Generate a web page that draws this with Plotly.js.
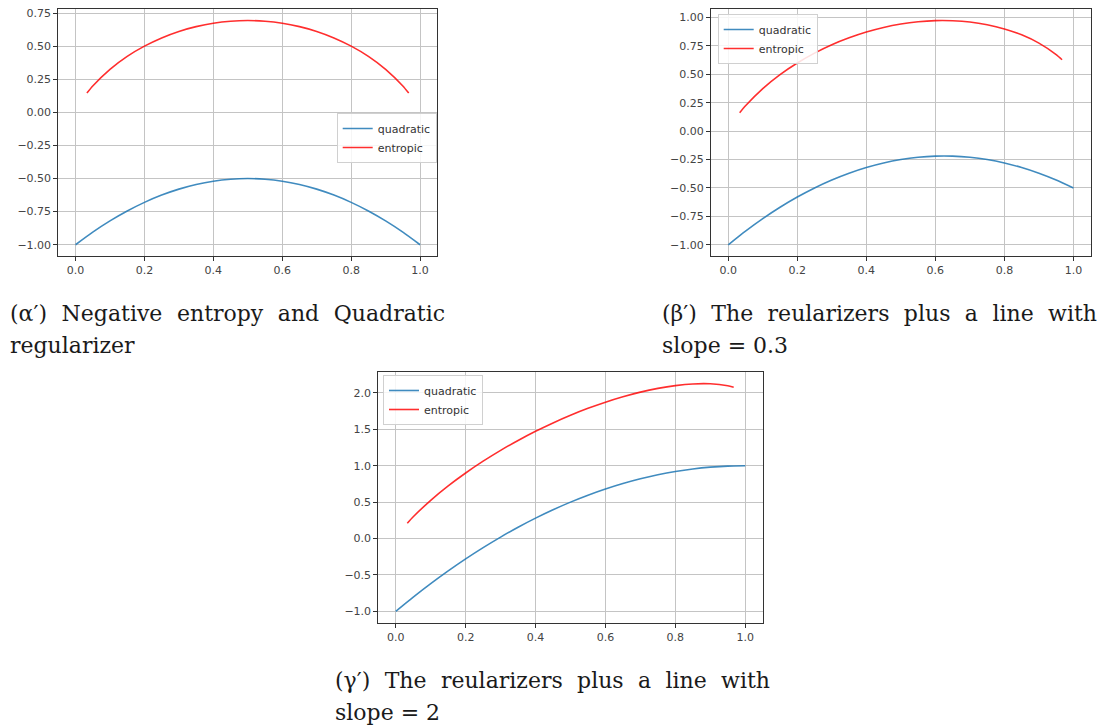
<!DOCTYPE html>
<html>
<head>
<meta charset="utf-8">
<script src="https://cdn.plot.ly/plotly-3.0.1.min.js"></script>
<style>html,body{margin:0;padding:0;background:#fff;}#chart{width:1103px;height:726px;}</style>
</head>
<body>
<div id="chart"></div>
<script>
// ---- data ----
const xQuad = [0,0.05,0.10,0.15,0.20,0.25,0.30,0.35,0.40,0.45,0.50,0.55,0.60,0.65,0.70,0.75,0.80,0.85,0.90,0.95,1.00];
const xEnt  = [0.033,0.05,0.10,0.15,0.20,0.25,0.30,0.35,0.40,0.45,0.50,0.55,0.60,0.65,0.70,0.75,0.80,0.85,0.90,0.95,0.967];

// panel (α′): negative entropy and quadratic regularizer
const quadA = [-1.000,-0.905,-0.820,-0.745,-0.680,-0.625,-0.580,-0.545,-0.520,-0.505,-0.500,-0.505,-0.520,-0.545,-0.580,-0.625,-0.680,-0.745,-0.820,-0.905,-1.000];
const entA  = [0.145,0.199,0.325,0.423,0.500,0.562,0.611,0.647,0.673,0.688,0.693,0.688,0.673,0.647,0.611,0.562,0.500,0.423,0.325,0.199,0.145];

// panel (β′)
const quadB = [-1.000,-0.880,-0.770,-0.670,-0.580,-0.500,-0.430,-0.370,-0.320,-0.280,-0.250,-0.230,-0.220,-0.220,-0.230,-0.250,-0.280,-0.320,-0.370,-0.430,-0.500];
const entB  = [0.162,0.224,0.375,0.498,0.600,0.687,0.761,0.822,0.873,0.913,0.943,0.963,0.973,0.972,0.961,0.937,0.900,0.848,0.775,0.674,0.629];

// panel (γ′)
const quadC = [-1.000,-0.805,-0.620,-0.445,-0.280,-0.125,0.020,0.155,0.280,0.395,0.500,0.595,0.680,0.755,0.820,0.875,0.920,0.955,0.980,0.995,1.000];
const entC  = [0.211,0.299,0.525,0.723,0.900,1.062,1.211,1.347,1.473,1.588,1.693,1.788,1.873,1.947,2.011,2.062,2.100,2.123,2.125,2.099,2.079];

const seriesNames = ['quadratic','entropic'];
const xTicks = [0,0.2,0.4,0.6,0.8,1.0];
const yTicksA = [-1.00,-0.75,-0.50,-0.25,0.00,0.25,0.50,0.75];
const yTicksB = [-1.00,-0.75,-0.50,-0.25,0.00,0.25,0.50,0.75,1.00];
const yTicksC = [-1.0,-0.5,0.0,0.5,1.0,1.5,2.0];

const captions = [
  ['(α′) Negative entropy and Quadratic', 'regularizer'],
  ['(β′) The reularizers plus a line with', 'slope = 0.3'],
  ['(γ′) The reularizers plus a line with', 'slope = 2']
];

// ---- styling ----
const BLUE = 'rgba(31,119,180,0.85)';
const RED = 'rgba(255,0,0,0.82)';

function mk(x, y, name, color, ax, leg) {
  return {x:x, y:y, name:name, type:'scatter', mode:'lines',
    line:{color:color, width:1.6, shape:'spline', smoothing:0.6},
    xaxis:'x'+ax, yaxis:'y'+ax, legend:leg, hoverinfo:'skip'};
}

const data = [
  mk(xQuad, quadA, seriesNames[0], BLUE, '', 'legend'),
  mk(xEnt,  entA,  seriesNames[1], RED,  '', 'legend'),
  mk(xQuad, quadB, seriesNames[0], BLUE, '2', 'legend2'),
  mk(xEnt,  entB,  seriesNames[1], RED,  '2', 'legend2'),
  mk(xQuad, quadC, seriesNames[0], BLUE, '3', 'legend3'),
  mk(xEnt,  entC,  seriesNames[1], RED,  '3', 'legend3'),
];

const tickFont = {family:'DejaVu Sans, sans-serif', size:11, color:'#444'};
function xax(domain, anchor) {
  return {domain:domain, anchor:anchor, range:[-0.05,1.05], tickvals:xTicks, tickformat:'.1f',
    showgrid:true, gridcolor:'#c4c4c4', gridwidth:1, zeroline:false,
    showline:true, linecolor:'#333', linewidth:1, mirror:true,
    ticks:'outside', ticklen:4, tickcolor:'#333', tickfont:tickFont, fixedrange:true};
}
function yax(domain, anchor, range, tv, fmt) {
  return {domain:domain, anchor:anchor, range:range, tickvals:tv, tickformat:fmt,
    showgrid:true, gridcolor:'#c4c4c4', gridwidth:1, zeroline:false,
    showline:true, linecolor:'#333', linewidth:1, mirror:true,
    ticks:'outside', ticklen:4, tickcolor:'#333', tickfont:tickFont, fixedrange:true};
}
function leg(x, y) {
  return {x:x, y:y, xanchor:'left', yanchor:'top', bgcolor:'rgba(255,255,255,0.85)',
    bordercolor:'#d0d0d0', borderwidth:1, font:{family:'DejaVu Sans, sans-serif', size:11, color:'#333'},
    itemwidth:30, tracegroupgap:0};
}

const capFont = {family:'DejaVu Serif, Liberation Serif, serif', size:22, color:'#1a1a1a'};
function cap(x, y, text) {
  return {xref:'paper', yref:'paper', x:x, y:y, xanchor:'left', yanchor:'middle',
    text:text, showarrow:false, font:capFont, align:'left'};
}
const W = 1103, H = 726;
const annotations = [
  cap(8/W, 1-313/H, captions[0][0]), cap(8/W, 1-345/H, captions[0][1]),
  cap(660/W, 1-313/H, captions[1][0]), cap(660/W, 1-345/H, captions[1][1]),
  cap(333/W, 1-680/H, captions[2][0]), cap(333/W, 1-712/H, captions[2][1]),
];
// justified first caption lines: target right edges (px)
const justifyRight = {0:443, 2:1095, 4:768};

const layout = {
  width:W, height:H, margin:{l:0,r:0,t:0,b:0},
  paper_bgcolor:'#fff', plot_bgcolor:'#fff', showlegend:true,
  xaxis:  xax([58.3/W, 437.3/W], 'y'),
  yaxis:  yax([1-256/H, 1-9.3/H], 'x', [-1.085, 0.778], yTicksA, '.2f'),
  xaxis2: xax([711/W, 1090.7/W], 'y2'),
  yaxis2: yax([1-256/H, 1-9.3/H], 'x2', [-1.099, 1.073], yTicksB, '.2f'),
  xaxis3: xax([378.3/W, 762.7/W], 'y3'),
  yaxis3: yax([1-622.7/H, 1-372.3/H], 'x3', [-1.156, 2.283], yTicksC, '.1f'),
  legend:  leg(336.7/W, 1-113/H),
  legend2: leg(717.7/W, 1-14/H),
  legend3: leg(383/W, 1-375/H),
  annotations: annotations
};

Plotly.newPlot('chart', data, layout, {staticPlot:true, displayModeBar:false}).then(function(gd){
  const texts = gd.querySelectorAll('.annotation-text');
  Object.keys(justifyRight).forEach(function(k){
    const t = texts[+k];
    if (!t) return;
    const left = +annotations[k].x * W;
    const target = justifyRight[k] - left;
    const len = t.getComputedTextLength();
    const spaces = (annotations[k].text.match(/ /g) || []).length;
    if (spaces > 0 && target > len) {
      t.style.wordSpacing = ((target - len) / spaces) + 'px';
    }
  });
});
</script>
</body>
</html>
